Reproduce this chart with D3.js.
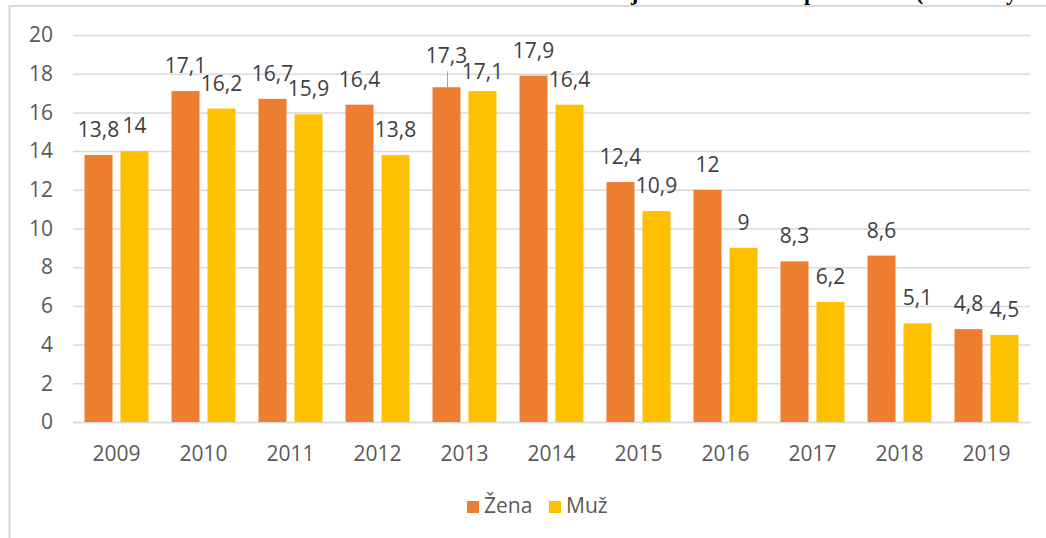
<!DOCTYPE html>
<html>
<head>
<meta charset="utf-8">
<script src="https://cdn.jsdelivr.net/npm/d3@7"></script>
<style>
  html, body { margin: 0; padding: 0; background: #ffffff; overflow: hidden; }
  svg { display: block; }
</style>
</head>
<body>
<svg id="mySVG" width="1046" height="538"></svg>
<script>
const years = ["2009", "2010", "2011", "2012", "2013", "2014", "2015", "2016", "2017", "2018", "2019"];
const zena = [13.8, 17.1, 16.7, 16.4, 17.3, 17.9, 12.4, 12, 8.3, 8.6, 4.8];
const muz = [14, 16.2, 15.9, 13.8, 17.1, 16.4, 10.9, 9, 6.2, 5.1, 4.5];
const seriesNames = ["Žena", "Muž"];
const yTicks = [0, 2, 4, 6, 8, 10, 12, 14, 16, 18, 20];

const colors = {"Žena": "#ED7D31", "Muž": "#FFC000"};
const fontFamily = "'Open Sans', 'Noto Sans', sans-serif";
const fontSize = 21;

const svg = d3.select('#mySVG');

// chart frame (runs past the right and bottom edge of the picture)
svg.append("rect")
    .attr("x", 9.5)
    .attr("y", 6)
    .attr("width", 1100)
    .attr("height", 600)
    .attr("fill", "none")
    .attr("stroke", "#d9d9d9")
    .attr("stroke-width", 2);

// what is left of the title above the frame (only descenders are visible)
svg.append("text")
    .attr("y", 0)
    .style("font-family", "'Liberation Serif', serif")
    .style("font-weight", "bold")
    .style("font-size", "22px")
    .attr("fill", "#000000")
    .selectAll("tspan")
    .data(["j", "p", "(", "y"])
    .enter().append("tspan")
    .attr("x", (d, i) => [631, 804, 916, 1006][i])
    .text(d => d);

const x0 = d3.scaleBand()
    .domain(years)
    .range([73, 1030])
    .paddingInner(0)
    .paddingOuter(0);

const x1 = d3.scaleBand()
    .domain(seriesNames)
    .range([0, x0.bandwidth()])
    .paddingInner(0.222)
    .paddingOuter(0.32);

const y = d3.scaleLinear()
    .domain([0, 20])
    .range([422, 35]);

// gridlines
const yAxis = d3.axisLeft(y)
    .tickValues(yTicks)
    .tickSize(-(1030 - 73))
    .tickPadding(20)
    .tickFormat(d3.format("d"));

const yG = svg.append("g")
    .attr("transform", "translate(73,0)")
    .call(yAxis);
yG.select(".domain").remove();
yG.selectAll(".tick line")
    .attr("stroke", "#d9d9d9")
    .attr("stroke-width", 1.5);
yG.selectAll(".tick text")
    .attr("fill", "#595959")
    .style("font-family", fontFamily)
    .style("font-size", fontSize + "px");

// x axis labels
const xAxis = d3.axisBottom(x0).tickSize(0).tickPadding(24);
const xG = svg.append("g")
    .attr("transform", "translate(0,422)")
    .call(xAxis);
xG.select(".domain")
    .attr("stroke", "#d9d9d9")
    .attr("stroke-width", 1.5);
xG.selectAll(".tick text")
    .attr("fill", "#595959")
    .style("font-family", fontFamily)
    .style("font-size", fontSize + "px");

const rows = years.map(function (yr, i) {
    return {year: yr, values: [
        {key: "Žena", value: zena[i]},
        {key: "Muž", value: muz[i]}
    ]};
});

const groups = svg.append("g")
    .selectAll("g")
    .data(rows)
    .enter().append("g")
    .attr("transform", d => `translate(${x0(d.year)},0)`);

groups.selectAll("rect")
    .data(d => d.values)
    .enter().append("rect")
    .attr("x", d => x1(d.key))
    .attr("y", d => y(d.value))
    .attr("width", x1.bandwidth())
    .attr("height", d => y(0) - y(d.value))
    .attr("fill", d => colors[d.key]);

// Excel moved the two 2013 labels apart; the raised one keeps a leader line
function labelShift(year, key) {
    if (year === "2013" && key === "Žena") return -6;
    if (year === "2013" && key === "Muž") return 6;
    return 0;
}

groups.each(function (row) {
    const g = d3.select(this);
    row.values.forEach(function (d) {
        const cx = x1(d.key) + x1.bandwidth() / 2;
        const shift = labelShift(row.year, d.key);
        const base = y(d.value) - 18 + shift;
        g.append("text")
            .attr("x", cx)
            .attr("y", base)
            .attr("text-anchor", "middle")
            .attr("fill", "#404040")
            .style("font-family", fontFamily)
            .style("font-size", fontSize + "px")
            .text(String(d.value).replace(".", ","));
        if (shift < 0) {
            g.append("line")
                .attr("x1", cx + 1)
                .attr("x2", cx + 1)
                .attr("y1", base + 8)
                .attr("y2", y(d.value))
                .attr("stroke", "#a6a6a6")
                .attr("stroke-width", 1);
        }
    });
});

// legend
const legend = svg.append("g")
    .attr("transform", "translate(467,501)");
const legendItems = legend.selectAll("g")
    .data(seriesNames)
    .enter().append("g")
    .attr("transform", (d, i) => `translate(${i * 82},0)`);
legendItems.append("rect")
    .attr("width", 12)
    .attr("height", 12)
    .attr("fill", d => colors[d]);
legendItems.append("text")
    .attr("x", 17)
    .attr("y", 12)
    .attr("fill", "#595959")
    .style("font-family", fontFamily)
    .style("font-size", fontSize + "px")
    .text(d => d);
</script>
</body>
</html>
